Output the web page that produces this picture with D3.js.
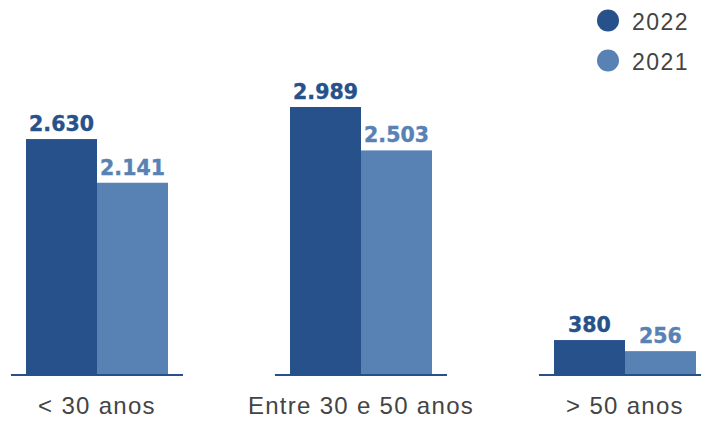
<!DOCTYPE html>
<html>
<head>
<meta charset="utf-8">
<script src="https://cdn.jsdelivr.net/npm/d3@7"></script>
<style>
  body { margin: 0; background: #fff; }
</style>
</head>
<body>
<div id="chart"></div>
<script>
// data
var categories = ["< 30 anos", "Entre 30 e 50 anos", "> 50 anos"];
var seriesNames = ["2022", "2021"];
var values2022 = [2630, 2989, 380];
var values2021 = [2141, 2503, 256];
var valueLabels2022 = ["2.630", "2.989", "380"];
var valueLabels2021 = ["2.141", "2.503", "256"];

var colors = { "2022": "#26518a", "2021": "#5982b4" };

var width = 701, height = 422;
var svg = d3.select("#chart").append("svg")
  .attr("width", width)
  .attr("height", height);

// scales
var x0 = d3.scaleBand()
  .domain(categories)
  .range([-35, 757])
  .padding(0);

var x1 = d3.scaleBand()
  .domain(seriesNames)
  .range([-71, 71])
  .padding(0);

var y = d3.scaleLinear()
  .domain([0, 2989])
  .range([374, 107]);

// build table for the bars
var rows = [];
categories.forEach(function(c, i) {
  rows.push({cat: c, s: "2022", v: values2022[i], label: valueLabels2022[i]});
  rows.push({cat: c, s: "2021", v: values2021[i], label: valueLabels2021[i]});
});

function center(c) { return x0(c) + x0.bandwidth() / 2; }

// bars
svg.append("g")
  .selectAll("rect")
  .data(rows)
  .enter()
  .append("rect")
    .attr("x", function(d) { return center(d.cat) + x1(d.s); })
    .attr("y", function(d) { return y(d.v); })
    .attr("width", x1.bandwidth())
    .attr("height", function(d) { return y(0) - y(d.v); })
    .style("fill", function(d) { return colors[d.s]; });

// value labels
svg.append("g")
  .selectAll("text")
  .data(rows)
  .enter()
  .append("text")
    .attr("x", function(d) { return center(d.cat) + x1(d.s) + x1.bandwidth() / 2; })
    .attr("y", function(d) { return y(d.v) - 8; })
    .attr("text-anchor", "middle")
    .style("font-family", "'DejaVu Sans', sans-serif")
    .style("font-weight", "bold")
    .style("font-size", "20.5px")
    .style("fill", function(d) { return colors[d.s]; })
    .style("stroke", function(d) { return colors[d.s]; })
    .style("stroke-width", 0.4)
    .text(function(d) { return d.label; });

// baseline segments under each group
svg.append("g")
  .selectAll("line")
  .data(categories)
  .enter()
  .append("line")
    .attr("x1", function(c) { return center(c) - 86; })
    .attr("x2", function(c) { return center(c) + 86; })
    .attr("y1", y(0) + 1)
    .attr("y2", y(0) + 1)
    .attr("stroke", colors["2022"])
    .attr("stroke-width", 2);

// category labels
svg.append("g")
  .selectAll("text")
  .data(categories)
  .enter()
  .append("text")
    .attr("x", function(c) { return center(c); })
    .attr("y", 414)
    .attr("text-anchor", "middle")
    .style("font-family", "'Liberation Sans', Arial, sans-serif")
    .style("font-size", "24px")
    .style("letter-spacing", "1.3px")
    .style("fill", "#444")
    .text(function(c) { return c; });

// legend
var legend = svg.append("g")
  .selectAll("g")
  .data(seriesNames)
  .enter()
  .append("g")
    .attr("transform", function(d, i) { return "translate(608," + (20.5 + i * 40) + ")"; });

legend.append("circle")
  .attr("r", 11)
  .style("fill", function(d) { return colors[d]; });

legend.append("text")
  .attr("x", 24)
  .attr("y", 9)
  .style("font-family", "'Liberation Sans', Arial, sans-serif")
  .style("font-size", "23px")
  .style("letter-spacing", "1.5px")
  .style("fill", "#444")
  .text(function(d) { return d; });
</script>
</body>
</html>
